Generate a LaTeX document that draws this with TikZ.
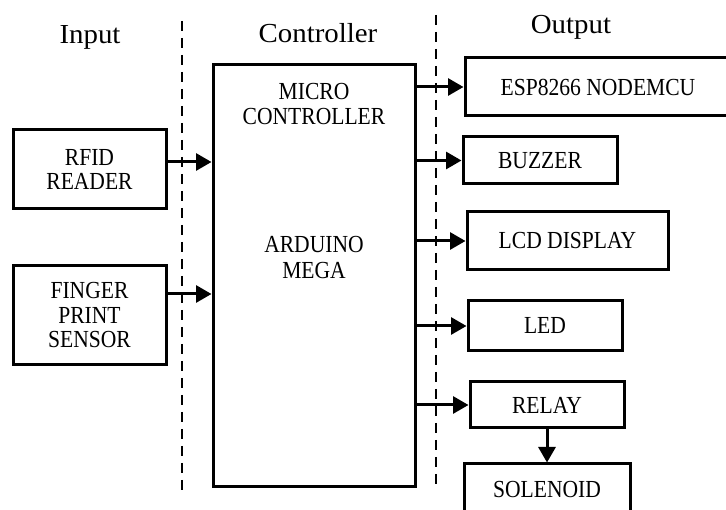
\documentclass[tikz,border=0pt]{standalone}
\usepackage{fontspec}
\setmainfont{Liberation Serif}
\newfontfamily\boxfont{Liberation Serif}[FakeStretch=0.88]
\newfontfamily\headfont{Liberation Serif}[FakeStretch=1.05]
\usetikzlibrary{arrows.meta}
\tikzset{
  blk/.style={draw, line width=3pt, inner sep=0pt, align=center,
    font=\boxfont\fontsize{24.5}{24.5}\selectfont},
  lbl/.style={inner sep=0pt, align=center, font=\boxfont\fontsize{24.5}{25.5}\selectfont},
  head/.style={inner sep=0pt, font=\headfont\fontsize{27.5}{30}\selectfont},
  arr/.style={line width=3pt, -{Triangle[length=15.5pt,width=17pt]}},
  sep/.style={line width=2.6pt, dash pattern=on 10pt off 7pt}
}
\begin{document}
\begin{tikzpicture}[x=1pt,y=-1pt]
\useasboundingbox (0,0) rectangle (726,510);
% headers
\node[head] (hin) at (90,37) {Input};
\node[head] (hctrl) at (318,33) {Controller};
\node[head] (hout) at (571,27) {Output};
% separators
\draw[sep] (182,21) -- (182,495);
\draw[sep] (436,15) -- (436,491);
% input blocks
\node[blk, minimum width=153pt, minimum height=79pt] (rfid) at (89.5,169.5) {RFID\\READER};
\node[blk, minimum width=153pt, minimum height=99pt] (finger) at (89.5,315.5) {FINGER\\PRINT\\SENSOR};
% controller
\node[blk, minimum width=202pt, minimum height=422pt] (ctrl) at (314,276) {};
\node[lbl] (ctrltop) at (314,104) {MICRO\\CONTROLLER};
\node[lbl] (ctrlmid) at (314,257.5) {ARDUINO\\MEGA};
% outputs
\node[blk, minimum width=266pt, minimum height=58pt] (esp) at (598,87) {ESP8266 NODEMCU};
\node[blk, minimum width=154pt, minimum height=47pt] (buzzer) at (540,160.5) {BUZZER};
\node[blk, minimum width=201pt, minimum height=58pt] (lcd) at (567.5,241) {LCD DISPLAY};
\node[blk, minimum width=154pt, minimum height=50pt] (led) at (545,326) {LED};
\node[blk, minimum width=154pt, minimum height=46pt] (relay) at (547,405) {RELAY};
\node[blk, minimum width=166pt, minimum height=52pt] (solenoid) at (547,490) {SOLENOID};
% input arrows
\draw[arr] (rfid.east |- 0,162) -- (ctrl.west |- 0,162);
\draw[arr] (finger.east |- 0,294) -- (ctrl.west |- 0,294);
% output arrows
\foreach \n in {esp,buzzer,lcd,led,relay}
  \draw[arr] (ctrl.east |- \n.west) -- (\n.west);
\draw[arr] (relay.south) -- (solenoid.north);
\end{tikzpicture}
\end{document}
